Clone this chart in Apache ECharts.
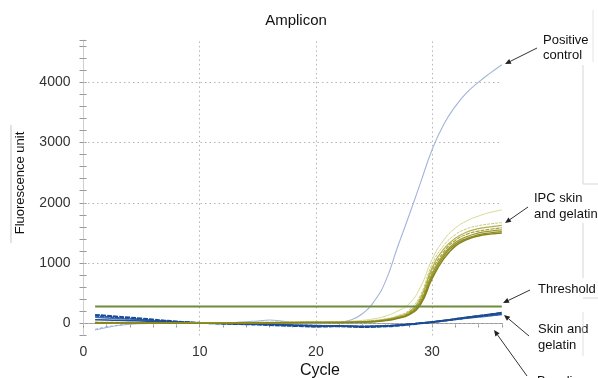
<!DOCTYPE html>
<html>
<head>
<meta charset="utf-8">
<script src="https://cdn.jsdelivr.net/npm/echarts@6/dist/echarts.min.js"></script>
<style>html,body{margin:0;padding:0;background:#fff;}#c{width:598px;height:378px;}</style>
</head>
<body>
<div id="c"></div>
<script>
var cycles = [1,2,3,4,5,6,7,8,9,10,11,12,13,14,15,16,17,18,19,20,21,22,23,24,25,26,27,28,29,30,31,32,33,34,35,36];
var xTickLabels = [0,10,20,30];
var yTickLabels = [0,1000,2000,3000,4000];
var thresholdValue = 280;

var positiveControl = [-110,-70,-35,-15,-5,0,5,5,0,0,5,10,15,25,40,55,40,15,0,-5,5,20,55,160,360,700,1250,1780,2330,2880,3300,3600,3830,4000,4150,4290];

var ipc1 = [10,10,5,5,5,0,0,0,5,5,5,5,10,10,10,15,15,15,15,20,20,25,35,50,75,120,200,320,600,1060,1380,1580,1700,1780,1840,1880];
var ipc2 = [15,10,10,5,5,5,0,0,0,5,5,10,10,10,15,15,15,20,20,20,20,20,25,35,50,75,125,215,470,980,1290,1470,1570,1620,1650,1670];
var ipc3 = [5,5,5,0,0,0,0,5,5,5,5,5,10,10,10,10,15,15,15,15,20,20,20,30,42,65,108,190,420,920,1230,1410,1515,1570,1600,1625];
var ipc4 = [20,15,15,10,10,5,5,5,5,5,10,10,10,10,15,15,15,15,20,20,15,15,20,25,38,60,100,175,390,870,1185,1375,1480,1530,1560,1585];
var ipc5 = [0,0,0,0,0,0,5,5,5,5,5,5,5,10,10,10,10,10,15,15,15,15,20,25,33,55,92,160,360,820,1150,1340,1440,1500,1530,1550];
var ipc6 = [10,10,10,5,5,5,5,5,0,0,0,5,5,5,10,10,10,15,15,15,15,15,15,20,30,50,88,150,335,780,1110,1310,1410,1470,1500,1520];
var ipc7 = [5,5,5,5,5,5,5,0,0,0,0,0,5,5,5,10,10,10,10,10,10,10,15,20,28,46,82,140,310,740,1070,1280,1390,1450,1480,1500];

var skin1 = [140,125,110,95,80,62,45,30,18,8,2,-5,-10,-15,-20,-28,-35,-42,-48,-55,-52,-48,-55,-60,-58,-50,-38,-20,0,20,45,70,95,120,145,170];
var skin2 = [120,110,95,80,65,50,38,25,15,8,3,0,-3,-8,-12,-18,-25,-30,-35,-40,-42,-40,-45,-48,-45,-38,-28,-12,5,25,45,65,90,110,130,150];
var skin3 = [100,90,80,70,55,45,35,22,12,5,0,-2,-5,-10,-15,-20,-22,-28,-32,-38,-40,-44,-50,-52,-48,-42,-30,-15,0,18,40,62,85,105,125,145];
var skin4 = [-100,-60,-30,-10,0,5,5,5,5,3,0,-3,-5,-5,0,10,20,5,-15,-30,-35,-40,-45,-50,-48,-42,-30,-15,2,22,44,68,92,118,140,165];
var skin5 = [60,55,50,45,40,32,25,18,12,6,2,0,-2,-6,-10,-15,-22,-30,-38,-45,-48,-45,-50,-55,-52,-45,-33,-18,0,22,48,75,100,125,150,180];

function pairs(arr){ return cycles.map(function(c,i){ return [c, arr[i]]; }); }
function lineSeries(arr, color, width, type, z){
  return { type:'line', data:pairs(arr), showSymbol:false, symbol:'none', smooth:true, silent:true, z:z||2,
    lineStyle:{ color:color, width:width, type:type||'solid' } };
}

function arrow(x1,y1,x2,y2){
  var dx=x2-x1, dy=y2-y1, L=Math.sqrt(dx*dx+dy*dy), ux=dx/L, uy=dy/L;
  var hl=6, hw=2.6;
  var bx=x2-ux*hl, by=y2-uy*hl;
  return [
    {type:'line', shape:{x1:x1,y1:y1,x2:bx,y2:by}, style:{stroke:'#333', lineWidth:1}, silent:true},
    {type:'polygon', shape:{points:[[x2,y2],[bx-uy*hw,by+ux*hw],[bx+uy*hw,by-ux*hw]]}, style:{fill:'#222'}, silent:true}
  ];
}
function label(x,y,t){
  return {type:'text', x:x, y:y, silent:true, style:{text:t, fill:'#111', font:'13px "Liberation Sans", Arial, sans-serif', align:'left', verticalAlign:'middle'}};
}
function faint(x1,y1,x2,y2,c){
  return {type:'line', shape:{x1:x1,y1:y1,x2:x2,y2:y2}, style:{stroke:c||'#d6d6d6', lineWidth:1}, silent:true};
}

var thresholdSeries = {
  type:'line', data:pairs(cycles.map(function(){ return thresholdValue; })), showSymbol:false, symbol:'none', silent:true, z:4,
  lineStyle:{ color:'#6f8c3e', width:2 },
  markLine:{ silent:true, symbol:'none', label:{show:false}, z:1,
    lineStyle:{ color:'#b5b5b5', width:1, type:[1.5,3] },
    data: xTickLabels.filter(function(v){return v>0;}).map(function(v){ return {xAxis:v}; })
      .concat(yTickLabels.map(function(v){ return {yAxis:v}; })) }
};

var graphics = [
  {type:'text', x:296, y:21, silent:true, style:{text:'Amplicon', fill:'#111', font:'15px "Liberation Sans", Arial, sans-serif', align:'center', verticalAlign:'middle'}},
  {type:'text', x:320, y:371, silent:true, style:{text:'Cycle', fill:'#111', font:'16px "Liberation Sans", Arial, sans-serif', align:'center', verticalAlign:'middle'}},
  {type:'text', x:20, y:183, rotation:Math.PI/2, silent:true, style:{text:'Fluorescence unit', fill:'#111', font:'13px "Liberation Sans", Arial, sans-serif', align:'center', verticalAlign:'middle'}},
  label(543,40,'Positive'), label(543,55,'control'),
  label(534,198,'IPC skin'), label(534,214,'and gelatin'),
  label(538,289,'Threshold'),
  label(538,329,'Skin and'), label(538,345,'gelatin'),
  label(537,381,'Baseline'),
  faint(11,125,11,243,'#c4c4c4'),
  faint(583,65,583,184), faint(583,184,598,184),
  faint(593,10,593,62,'#e4e4e4'),
  faint(583,223,583,278), faint(583,298,598,298),
  faint(583,312,583,356,'#e0e0e0')
].concat(arrow(537,48,505,64))
 .concat(arrow(528,207,505,223))
 .concat(arrow(530,290,503,303))
 .concat(arrow(529,336,504,315))
 .concat(arrow(527,376,494,330));

var option = {
  animation:false,
  backgroundColor:'#ffffff',
  grid:{ left:83.5, right:96.2, top:40, bottom:42.6, containLabel:false, outerBoundsMode:'none' },
  xAxis:[
    { type:'value', min:0, max:36, interval:2, position:'bottom',
      axisLine:{ show:true, lineStyle:{ color:'#9a9a9a', width:1 } },
      axisTick:{ show:true, length:4, lineStyle:{ color:'#777' } },
      splitLine:{ show:false },
      axisLabel:{ margin:10, color:'#333', fontSize:14, fontFamily:'"Liberation Sans", Arial, sans-serif',
        formatter:function(v){ return xTickLabels.indexOf(v) >= 0 ? String(v) : ''; } } },
    { type:'value', min:0, max:36, interval:2, position:'top',
      axisLine:{ show:false }, axisTick:{ show:true, inside:true, length:3, lineStyle:{ color:'#bbb' } },
      axisLabel:{ show:false }, splitLine:{ show:false } }
  ],
  yAxis:[
    { type:'value', min:-200, max:4700, interval:200,
      axisLine:{ show:true, lineStyle:{ color:'#cfcfcf', width:1 } },
      axisTick:{ show:true, length:4, lineStyle:{ color:'#999' } },
      splitLine:{ show:false },
      axisLabel:{ margin:13, color:'#333', fontSize:14, fontFamily:'"Liberation Sans", Arial, sans-serif',
        formatter:function(v){ return yTickLabels.indexOf(v) >= 0 ? String(v) : ''; } } },
    { type:'value', min:-200, max:4700, interval:200, position:'left',
      axisLine:{ show:false }, axisTick:{ show:true, inside:true, length:3, lineStyle:{ color:'#999' } },
      axisLabel:{ show:false }, splitLine:{ show:false } }
  ],
  series:[
    lineSeries(skin4, '#7f9fd2', 1, [3,2], 2),
    lineSeries(skin3, '#3d70bd', 1.5, 'solid', 2),
    lineSeries(skin2, '#2c5fab', 1.5, [4,1], 2),
    lineSeries(skin5, '#224f95', 1.5, 'solid', 2),
    lineSeries(skin1, '#1b4a90', 2, [5,1], 2),
    lineSeries(positiveControl, '#a3b5da', 1.1, 'solid', 3),
    lineSeries(ipc1, '#d6d994', 1, 'solid', 3),
    lineSeries(ipc2, '#c8cb78', 1, [3,1], 3),
    lineSeries(ipc3, '#b3b050', 1.2, 'solid', 3),
    lineSeries(ipc4, '#a8a43c', 1.2, [4,1], 3),
    lineSeries(ipc5, '#9c9a2c', 1.3, 'solid', 3),
    lineSeries(ipc6, '#8f8e22', 1.3, 'solid', 3),
    lineSeries(ipc7, '#85851c', 1.5, 'solid', 3),
    thresholdSeries
  ],
  graphic: graphics
};

var chart = echarts.init(document.getElementById('c'), null, {renderer:'canvas'});
chart.setOption(option);
</script>
</body>
</html>
